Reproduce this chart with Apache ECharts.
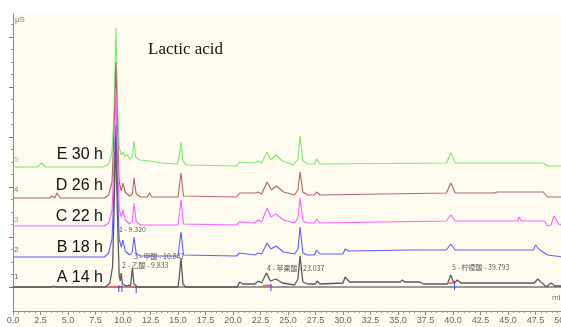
<!DOCTYPE html>
<html><head><meta charset="utf-8">
<script src="https://cdn.jsdelivr.net/npm/echarts@6/dist/echarts.min.js"></script>
<style>html,body{margin:0;padding:0;background:#fff}#c{width:561px;height:327px}</style>
</head><body><div id="c"></div>
<script>
// ---- data (retention time in min, signal) ----
const sampleNames = ['E 30 h', 'D 26 h', 'C 22 h', 'B 18 h', 'A 14 h'];
const traceIds = ['5', '4', '3', '2', '1'];

const traceE = [[0,120],[2.2,120],[2.6,124],[3.0,120],[8.2,120],[8.7,123],[9.0,135],[9.2,180],[9.35,259],[9.5,190],[9.65,140],[9.85,132],[10.0,135],[10.15,130],[10.35,133],[10.6,128],[10.85,130],[11.0,146],[11.15,130],[11.5,127],[12.5,126],[13.5,124],[14.9,123],[15.1,130],[15.27,145],[15.45,126],[15.8,122],[20.3,121],[20.6,125],[22.0,124],[22.3,126],[22.6,124],[23.1,135],[23.45,127],[23.9,132],[24.5,126],[25.5,122],[25.9,128],[26.1,151],[26.35,126],[26.8,123],[27.4,123],[27.6,128],[27.9,123],[39.4,124],[39.8,134],[40.2,124],[48.2,124],[48.6,121],[50,121]];
const traceD = [[0,89],[3.3,89],[3.55,91],[3.8,89],[4.0,94],[4.3,89],[8.3,89],[8.7,92],[9.0,105],[9.2,160],[9.35,225],[9.5,160],[9.65,105],[9.85,96],[10.0,104],[10.2,95],[10.6,91],[10.85,93],[11.0,109],[11.2,93],[11.6,90],[12.2,90],[12.4,94],[12.6,90],[15.0,90],[15.27,114],[15.5,91],[20.3,90],[20.6,94],[22.0,94],[22.3,95],[22.6,93],[23.1,105],[23.5,97],[23.95,101],[24.6,95],[25.6,92],[25.9,97],[26.1,115],[26.35,95],[26.8,92],[27.4,92],[27.6,95],[27.9,92],[39.4,94],[39.8,104],[40.2,94],[43.8,94],[44.0,95],[48.2,95],[48.6,90],[50,90]];
const traceC = [[0,61],[8.3,61],[8.7,64],[9.0,76],[9.2,130],[9.35,195],[9.5,130],[9.65,78],[9.85,70],[10.0,77],[10.2,67],[10.6,63],[10.85,66],[11.0,84],[11.2,65],[11.6,62],[15.0,62],[15.27,87],[15.5,63],[20.3,62],[20.6,65],[22.0,64],[22.3,67],[22.6,65],[23.1,79],[23.45,70],[23.9,73],[24.6,67],[25.6,64],[25.9,69],[26.1,89],[26.35,66],[26.8,64],[27.4,64],[27.6,68],[27.9,64],[39.4,66],[39.8,72],[40.2,66],[45.9,66],[46.0,70],[46.2,66],[48.3,66],[48.6,61],[48.9,62],[49.2,71],[49.6,63],[50,62]];
const traceB = [[0,30],[8.3,30],[8.7,34],[9.0,48],[9.2,100],[9.35,162],[9.5,100],[9.65,48],[9.85,40],[10.0,47],[10.2,36],[10.6,32],[10.85,35],[11.0,50],[11.2,33],[11.6,31],[15.0,31],[15.27,55],[15.5,32],[20.3,31],[20.6,34],[22.0,32],[22.3,34],[22.6,33],[23.1,44],[23.45,38],[23.9,41],[24.6,35],[25.6,33],[25.9,38],[26.1,60],[26.35,34],[26.8,32],[27.4,32],[27.6,37],[27.9,33],[30.0,33],[30.2,38],[30.5,36],[36.0,37],[39.4,37],[39.8,43],[40.2,37],[47.3,37],[47.5,42],[47.9,37],[48.6,32],[50,30]];
const traceA = [[0,0],[3.5,0],[3.7,1],[3.9,0],[8.4,0],[8.8,4],[9.05,20],[9.2,80],[9.32,150],[9.5,70],[9.65,12],[9.75,6],[9.83,14],[9.95,3],[10.3,1],[10.7,2],[10.85,19],[11.0,3],[11.3,0],[15.0,0],[15.1,8],[15.27,29],[15.45,3],[15.7,0],[20.4,0],[20.6,5],[20.9,3],[22.0,3],[22.3,6],[22.6,4],[23.04,14],[23.4,6],[23.9,8],[24.5,4],[25.6,2],[25.9,8],[26.1,31],[26.35,5],[26.8,3],[27.5,3],[27.65,6],[27.9,3],[30.0,4],[30.2,10],[30.6,5],[31.0,5],[35.2,5],[35.4,7],[35.6,5],[37.0,5],[37.3,3],[39.5,3],[39.79,12],[40.1,4],[40.4,7],[40.7,4],[47.4,4],[47.7,8],[48.1,4],[48.5,0],[48.9,4],[49.3,1],[50,1]];

// integration baselines on trace A: [start, end, level]
const integrationBase = [[8.6, 9.8, 0], [10.55, 11.15, 0], [22.7, 23.5, 1.5], [39.5, 40.1, 4]];
// peak cut marks on trace A: [time, top, bottom]
const peakCuts = [[9.62, 2, -5], [9.9, 2, -5], [11.2, 2, -6], [23.45, 3, -4], [40.15, 6, -3]];
// peak annotations
const peakLabels = ['1 - 9.320', '2 - 乙酸 - 9.833', '3 - 甲酸 - 10.847', '4 - 苹果酸 - 23.037', '5 - 柠檬酸 - 39.793'];
const yMajor = [0, 50, 100, 150, 200, 250];
const yMinor = [12.5, 25, 37.5, 62.5, 75, 87.5, 112.5, 125, 137.5, 162.5, 175, 187.5, 212.5, 225, 237.5, 262.5];

const traces = [traceE, traceD, traceC, traceB, traceA];
const colors = ['#74ec74', '#b0665f', '#ff5cff', '#5e5eff', '#5a5a5a'];

const chart = echarts.init(document.getElementById('c'), null, {renderer: 'canvas'});

const series = traces.map((d, i) => ({
  type: 'line', data: d, symbol: 'none', color: colors[i],
  lineStyle: {width: i === 4 ? 1.3 : 1.1, color: colors[i]},
  animation: false, z: 2 + i
}));
integrationBase.forEach(s => series.push({
  type: 'line', data: [[s[0], s[2]], [s[1], s[2]]], symbol: 'none',
  lineStyle: {width: 1.6, color: '#ff5555'}, animation: false, z: 10
}));
peakCuts.forEach(s => series.push({
  type: 'line', data: [[s[0], s[1]], [s[0], s[2]]], symbol: 'none',
  lineStyle: {width: 1, color: '#4444ff'}, animation: false, z: 11
}));

const labelPos = [[119, 229], [122, 265], [134, 256], [267, 268], [452, 267]];
const sampleY = [155, 186, 217, 248, 278];
const idY = [160, 190, 220, 250, 277];

const graphic = [
  {type: 'rect', shape: {x: 13, y: 14, width: 560, height: 320}, style: {fill: '#fffbee'}, z: -10, silent: true},
  {type: 'text', x: 148, y: 50, style: {text: 'Lactic acid', font: '17px "Liberation Serif", serif', fill: '#111', textVerticalAlign: 'middle'}, z: 20},
  {type: 'text', x: 15, y: 20, style: {text: 'µS', font: '8px "Liberation Sans Narrow", "Liberation Sans"', fill: '#777', textVerticalAlign: 'middle'}, z: 20},
  {type: 'text', x: 552, y: 298, style: {text: 'min', font: '8px "Liberation Sans Narrow", "Liberation Sans"', fill: '#777', textVerticalAlign: 'middle'}, z: 20}
];
sampleNames.forEach((n, i) => graphic.push({type: 'text', x: 103, y: sampleY[i], style: {text: n, font: '16px "Liberation Sans", Arial', fill: '#111', textAlign: 'right', textVerticalAlign: 'middle'}, z: 20}));
traceIds.forEach((n, i) => graphic.push({type: 'text', x: 14, y: idY[i], style: {text: n, font: '8px "Liberation Sans"', fill: colors[i], textVerticalAlign: 'middle'}, z: 20}));
peakLabels.forEach((n, i) => graphic.push({type: 'text', x: labelPos[i][0], y: labelPos[i][1], style: {text: n, font: '7px "Liberation Sans Narrow", "Noto Sans CJK SC"', fill: '#555', textVerticalAlign: 'middle'}, z: 20}));

chart.setOption({
  backgroundColor: '#ffffff',
  animation: false,
  grid: {left: 13, right: -2, top: 14, bottom: 16, show: false, containLabel: false, outerBoundsMode: 'none'},
  xAxis: [{
    type: 'value', min: 0, max: 50, interval: 2.5, position: 'bottom',
    axisLine: {show: true, onZero: false, lineStyle: {color: '#8a8a8a', width: 1}},
    axisTick: {show: true, length: 4, lineStyle: {color: '#8a8a8a'}},
    minorTick: {show: true, splitNumber: 5, length: 2, lineStyle: {color: '#9a9a9a'}},
    axisLabel: {show: true, formatter: v => v.toFixed(1), fontSize: 9, color: '#666', margin: 5, fontFamily: '"Liberation Sans Narrow", "Liberation Sans"', showMinLabel: true, showMaxLabel: true, hideOverlap: false},
    splitLine: {show: false}
  }, {
    type: 'value', min: 0, max: 50, position: 'top',
    axisLine: {show: true, lineStyle: {color: '#9a9a9a', width: 2}},
    axisTick: {show: false}, axisLabel: {show: false}, splitLine: {show: false}
  }],
  yAxis: [{
    type: 'value', min: -24, max: 273, position: 'left',
    axisLine: {show: true, onZero: false, lineStyle: {color: '#8a8a8a', width: 1}},
    axisTick: {show: true, length: 4, customValues: yMajor, lineStyle: {color: '#777'}},
    axisLabel: {show: false}, splitLine: {show: false}
  }, {
    type: 'value', min: -24, max: 273, position: 'left',
    axisLine: {show: false},
    axisTick: {show: true, length: 2, customValues: yMinor, lineStyle: {color: '#999'}},
    axisLabel: {show: false}, splitLine: {show: false}
  }],
  series: series,
  graphic: graphic
});
</script></body></html>
